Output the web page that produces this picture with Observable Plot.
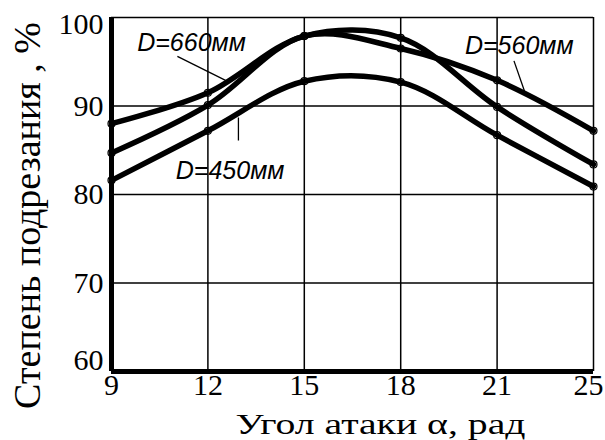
<!DOCTYPE html>
<html>
<head>
<meta charset="utf-8">
<script src="https://cdn.jsdelivr.net/npm/d3@7"></script>
<script src="https://cdn.jsdelivr.net/npm/@observablehq/plot@0.6"></script>
<style>
  body { margin: 0; background: #fff; }
</style>
</head>
<body>
<div id="chart"></div>
<script>
// Angle of attack (equally spaced on the axis)
const angles = [9, 12, 15, 18, 21, 25];
// Cutting degree, % for each disc diameter
const d660 = [88.0, 91.5, 97.9, 97.7, 89.9, 83.4];
const d560 = [84.7, 90.1, 97.9, 96.5, 92.9, 87.2];
const d450 = [81.6, 87.2, 92.8, 92.7, 86.7, 80.9];
const seriesNames = ["D=660мм", "D=560мм", "D=450мм"];
const yTicks = [60, 70, 80, 90, 100];

// Series label anchors (angle, %) and their leader lines
const labelX = [9.8, 20.0, 11.0];
const labelY = [96.2, 95.9, 81.8];
const leaderX1 = [11.05, 21.7, 12.95];
const leaderY1 = [95.6, 95.1, 88.7];
const leaderX2 = [12.55, 22.16, 12.95];
const leaderY2 = [92.9, 91.5, 86.1];

const xTitle = "Угол атаки α, рад";
const yTitle = "Степень подрезания , %";

const rows = [];
[d660, d560, d450].forEach((vals, s) => {
  vals.forEach((v, i) => rows.push({series: seriesNames[s], angle: angles[i], value: v}));
});
const labels = seriesNames.map((name, i) => ({name, x: labelX[i], y: labelY[i]}));
const leaders = seriesNames.map((name, i) => ({x1: leaderX1[i], y1: leaderY1[i], x2: leaderX2[i], y2: leaderY2[i]}));

const serif = "'Liberation Serif', 'Times New Roman', serif";
const sans = "'Liberation Sans', Arial, sans-serif";
const tickText = {tickSize: 0, fontSize: 30, label: null, fill: "#000"};

const chart = Plot.plot({
  width: 605,
  height: 440,
  marginLeft: 111,
  marginRight: 12,
  marginTop: 17,
  marginBottom: 69,
  style: {fontFamily: serif, color: "#000", background: "#fff"},
  x: {type: "linear", domain: angles},
  y: {domain: [60, 100]},
  marks: [
    Plot.gridX(angles, {stroke: "#000", strokeOpacity: 1, strokeWidth: 1.5}),
    Plot.gridY(yTicks, {stroke: "#000", strokeOpacity: 1, strokeWidth: 1.5}),
    Plot.ruleX([angles[0]], {stroke: "#000", strokeWidth: 5}),
    Plot.ruleY([yTicks[0]], {stroke: "#000", strokeWidth: 5, x1: angles[0], x2: angles[angles.length - 1]}),
    Plot.line(rows, {x: "angle", y: "value", z: "series", curve: "catmull-rom", stroke: "#000", strokeWidth: 5.5}),
    Plot.dot(rows, {x: "angle", y: "value", r: 3.5, stroke: "#000", strokeWidth: 1.2, fill: "none"}),
    Plot.link(leaders, {x1: "x1", y1: "y1", x2: "x2", y2: "y2", stroke: "#000", strokeWidth: 1.3}),
    Plot.text(labels, {x: "x", y: "y", text: "name", textAnchor: "start", lineAnchor: "bottom",
      fontFamily: sans, fontStyle: "italic", fontSize: 25, fill: "#000"}),
    // x tick labels; the last one is nudged inward to stay on the page
    Plot.axisX(angles.slice(0, -1), {...tickText, tickPadding: 2}),
    Plot.axisX(angles.slice(-1), {...tickText, tickPadding: 2, dx: -5}),
    // y tick labels; the end ticks sit inside the frame
    Plot.axisY(yTicks.slice(1, -1), {...tickText, tickPadding: 8}),
    Plot.axisY(yTicks.slice(-1), {...tickText, tickPadding: 8, dy: 7}),
    Plot.axisY(yTicks.slice(0, 1), {...tickText, tickPadding: 8, dy: -11}),
    Plot.text([xTitle], {frameAnchor: "bottom", textAnchor: "middle", lineAnchor: "middle", dx: 28, dy: 53, fontSize: 30, fill: "#000"}),
    Plot.text([yTitle], {frameAnchor: "left", textAnchor: "middle", lineAnchor: "middle", rotate: -90, dx: -84, dy: 21, fontSize: 38, fill: "#000"})
  ]
});

// The axis title is set wide, with stretched letterforms
d3.select(chart).selectAll("text")
  .filter(function () { return this.textContent === xTitle; })
  .attr("textLength", 290)
  .attr("lengthAdjust", "spacingAndGlyphs");

document.getElementById("chart").appendChild(chart);
</script>
</body>
</html>
